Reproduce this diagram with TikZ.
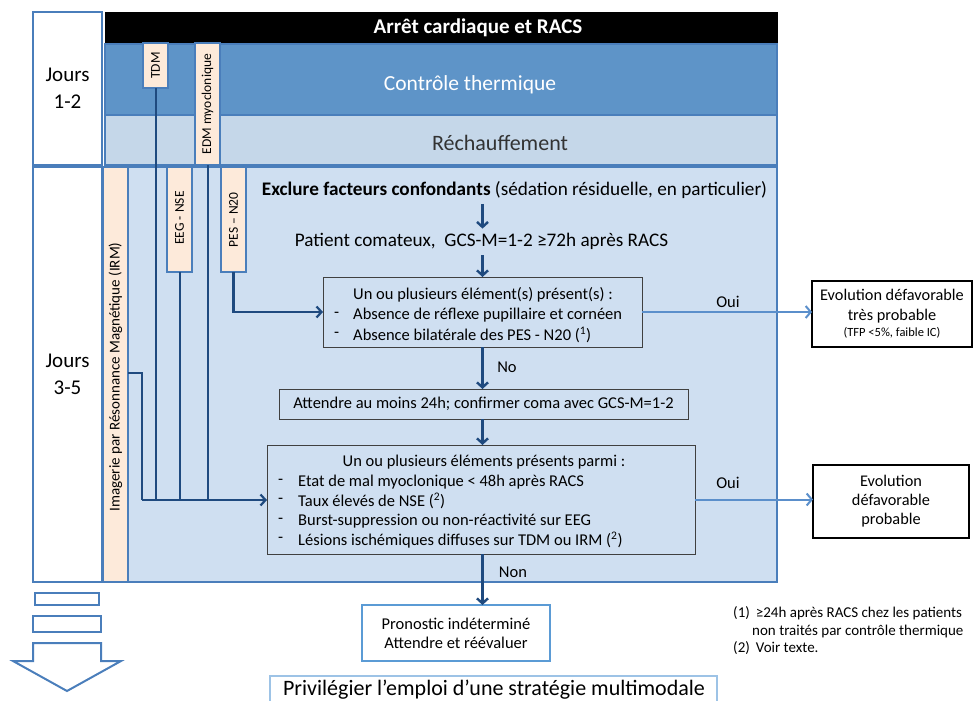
\documentclass[tikz,border=0pt]{standalone}
\usepackage{fontspec}
\setmainfont{Carlito}
\usetikzlibrary{arrows.meta,calc}
\definecolor{bordblue}{HTML}{4A7EBB}
\definecolor{thermo}{HTML}{5E94C8}
\definecolor{recha}{HTML}{C5D7E9}
\definecolor{lightreg}{HTML}{CFDFF1}
\definecolor{peach}{HTML}{FDEADA}
\definecolor{navy}{HTML}{1F4A7F}
\definecolor{ouiblue}{HTML}{5B8FCB}
\definecolor{boxgray}{HTML}{404040}
\definecolor{pronblue}{HTML}{5B9BD5}
\definecolor{privblue}{HTML}{9DC3E6}
\begin{document}
\begin{tikzpicture}[x=1pt,y=-1pt,
  rbox/.style={draw, inner sep=0pt, anchor=north west, outer sep=0pt},
  f12/.style={font=\fontsize{13.5}{15}\selectfont},
  f14/.style={font=\fontsize{16.5}{20}\selectfont},
  f18/.style={font=\fontsize{21}{27}\selectfont},
  tag/.style={rbox, fill=peach, draw=bordblue, line width=1.2pt},
  conn/.style={draw=navy, line width=2pt},
  flow/.style={draw=navy, line width=2.4pt, -{Straight Barb[length=5pt,width=11pt]}},
  oui/.style={draw=ouiblue, line width=2pt, -{Straight Barb[length=5pt,width=12pt]}},
  txt/.style={inner sep=0pt, anchor=west, f14}
]
\useasboundingbox (0,0) rectangle (975,701);

% day columns
\node[rbox, draw=bordblue, line width=1.5pt, fill=white, minimum width=69, minimum height=153, align=center, f18] (j12) at (33,12) {Jours\\1-2};
\node[rbox, draw=bordblue, line width=1.5pt, fill=white, minimum width=69, minimum height=415, align=center, f18] (j35) at (33,167) {Jours\\3-5};

% bands
\node[rbox, draw=black, fill=black, minimum width=672, minimum height=32] (head) at (105,12) {};
\node[text=white, font=\bfseries\fontsize{21}{24}\selectfont, inner sep=0pt] (headtxt) at (478,28) {Arrêt cardiaque et RACS};
\node[rbox, draw=bordblue, line width=1.2pt, fill=thermo, minimum width=672, minimum height=71] (therm) at (105,44) {};
\node[text=white, font=\fontsize{21.5}{24}\selectfont, inner sep=0pt] (thermtxt) at (470,85) {Contrôle thermique};
\node[rbox, draw=bordblue, line width=1.2pt, fill=recha, minimum width=672, minimum height=50] (rech) at (105,115) {};
\node[text=black!80, font=\fontsize{22}{24}\selectfont, inner sep=0pt] (rechtxt) at (500,143) {Réchauffement};
\node[rbox, draw=bordblue, line width=1.5pt, fill=lightreg, minimum width=672, minimum height=415] (reg) at (105,167) {};

% exam tags
\node[tag, minimum width=25, minimum height=415] (irm) at (103,167) {};
\node[rotate=90, inner sep=0pt, font=\fontsize{15}{16}\selectfont] (irmtxt) at (115.5,377) {Imagerie par Résonnance Magnétique (IRM)};
\node[tag, minimum width=25, minimum height=45] (tdm) at (143,43) {};
\node[rotate=90, f12, inner sep=0pt] (tdmtxt) at (155.5,65.5) {TDM};
\node[tag, minimum width=25, minimum height=122] (edm) at (195,43) {};
\node[rotate=90, f12, inner sep=0pt] (edmtxt) at (207.5,104) {EDM myoclonique};
\node[tag, minimum width=25, minimum height=105] (eeg) at (167,167) {};
\node[rotate=90, f12, inner sep=0pt] (eegtxt) at (179.5,218) {EEG - NSE};
\node[tag, minimum width=25, minimum height=105] (pes) at (221,167) {};
\node[rotate=90, f12, inner sep=0pt] (pestxt) at (233.5,220) {PES – N20};

% flow texts
\node[inner sep=0pt, font=\fontsize{19.2}{22}\selectfont] (excl) at (514.5,190) {\textbf{Exclure facteurs confondants} (sédation résiduelle, en particulier)};
\node[inner sep=0pt, font=\fontsize{19.2}{22}\selectfont] (pat) at (481.5,241) {Patient comateux,\ \ GCS-M=1-2 ≥72h après RACS};

% box 1
\node[rbox, draw=boxgray, line width=1pt, minimum width=319, minimum height=70] (box1) at (323,277) {};
\node[txt] (b1t0) at (353,295) {Un ou plusieurs élément(s) présent(s) :};
\node[txt] (b1d1) at (334,315) {-};
\node[txt] (b1t1) at (353,315) {Absence de réflexe pupillaire et cornéen};
\node[txt] (b1d2) at (334,335) {-};
\node[txt] (b1t2) at (353,335) {Absence bilatérale des PES - N20 (\textsuperscript{1})};

\node[rbox, draw=black, line width=2.5pt, fill=white, minimum width=160, minimum height=66, align=center, font=\fontsize{16.3}{20}\selectfont] (evo1) at (812,281) {Evolution défavorable\\très probable\\[-4pt]{\fontsize{12.5}{14}\selectfont (TFP <5\%, faible IC)}};

% attendre
\node[rbox, draw=boxgray, line width=1pt, minimum width=409, minimum height=30, f14] (att) at (279,389) {Attendre au moins 24h; confirmer coma avec GCS-M=1-2};

% box 2
\node[rbox, draw=boxgray, line width=1pt, minimum width=428, minimum height=109] (box2) at (267,445) {};
\node[inner sep=0pt, f14] (b2t0) at (484,462) {Un ou plusieurs éléments présents parmi :};
\node[txt] (b2d1) at (278,482) {-};
\node[txt] (b2t1) at (298,482) {Etat de mal myoclonique < 48h après RACS};
\node[txt] (b2d2) at (278,501) {-};
\node[txt] (b2t2) at (298,501) {Taux élevés de NSE (\textsuperscript{2})};
\node[txt] (b2d3) at (278,521) {-};
\node[txt] (b2t3) at (298,521) {Burst-suppression ou non-réactivité sur EEG};
\node[txt] (b2d4) at (278,540) {-};
\node[txt] (b2t4) at (298,540) {Lésions ischémiques diffuses sur TDM ou IRM (\textsuperscript{2})};

\node[rbox, draw=black, line width=2.5pt, fill=white, minimum width=156, minimum height=73, align=center, font=\fontsize{16.3}{19}\selectfont] (evo2) at (813,465) {Evolution\\défavorable\\probable};

% pronostic
\node[rbox, draw=pronblue, line width=2pt, fill=white, minimum width=188, minimum height=56, align=center, font=\fontsize{16.5}{19}\selectfont] (pron) at (362,605) {Pronostic indéterminé\\Attendre et réévaluer};

% multimodale
\node[rbox, draw=privblue, line width=1.5pt, fill=white, minimum width=447, minimum height=40] (priv) at (270,676) {};
\node[inner sep=0pt, font=\fontsize{22}{24}\selectfont] (privtxt) at (494,690) {Privilégier l’emploi d’une stratégie multimodale};

% footnotes
\node[inner sep=0pt, anchor=west, font=\fontsize{15}{17}\selectfont] (fn1) at (733,613) {(1)\hspace{6pt}≥24h après RACS chez les patients};
\node[inner sep=0pt, anchor=west, font=\fontsize{15}{17}\selectfont] (fn1b) at (752,631) {non traités par contrôle thermique};
\node[inner sep=0pt, anchor=west, font=\fontsize{15}{17}\selectfont] (fn2) at (733,648) {(2)\hspace{6pt}Voir texte.};

% labels
\node[inner sep=0pt, f14] (oui1) at (728,302) {Oui};
\node[inner sep=0pt, f14] (oui2) at (728,483) {Oui};
\node[inner sep=0pt, f14] (no) at (507,367) {No};
\node[inner sep=0pt, f14] (non) at (513,572) {Non};

% left connectors
\coordinate (irmout) at (128,373);
\coordinate (join) at (142,500);
\draw[conn] (irmout) -| (join);
\draw[conn] (tdm.south) -- (tdm.south |- join);
\draw[conn] (eeg.south) -- (eeg.south |- join);
\draw[conn] (edm.south) -- (edm.south |- join);
\draw[conn, -{Straight Barb[length=5pt,width=11pt]}, line width=2.2pt] (join) -- (box2.west |- join);
\draw[conn, -{Straight Barb[length=5pt,width=11pt]}, line width=2.2pt] (pes.south) |- (box1.west);

% flow arrows
\draw[flow] ($(excl.south -| box1.north)+(0,5)$) -- ($(pat.north -| box1.north)+(0,-4)$);
\draw[flow] ($(pat.south -| box1.north)+(0,6)$) -- (box1.north);
\draw[flow] (box1.south) -- (att.north -| box1.south);
\draw[flow] (att.south -| box1.south) -- (box2.north -| box1.south);
\draw[flow] (box2.south -| box1.south) -- (pron.north -| box1.south);

% oui arrows
\draw[oui] (box1.east) -- (evo1.west |- box1.east);
\draw[oui] (box2.east) -- (evo2.west |- box2.east);

% bottom-left arrow symbol
\draw[draw=bordblue, line width=2pt, fill=white] (35,593) rectangle (99,605);
\draw[draw=bordblue, line width=2pt, fill=white] (33,616) rectangle (101,632);
\draw[draw=bordblue, line width=2pt, fill=white, line join=miter] (33,643) -- (101,643) -- (101,661) -- (121,661) -- (67,691) -- (13,661) -- (33,661) -- cycle;
\end{tikzpicture}
\end{document}
